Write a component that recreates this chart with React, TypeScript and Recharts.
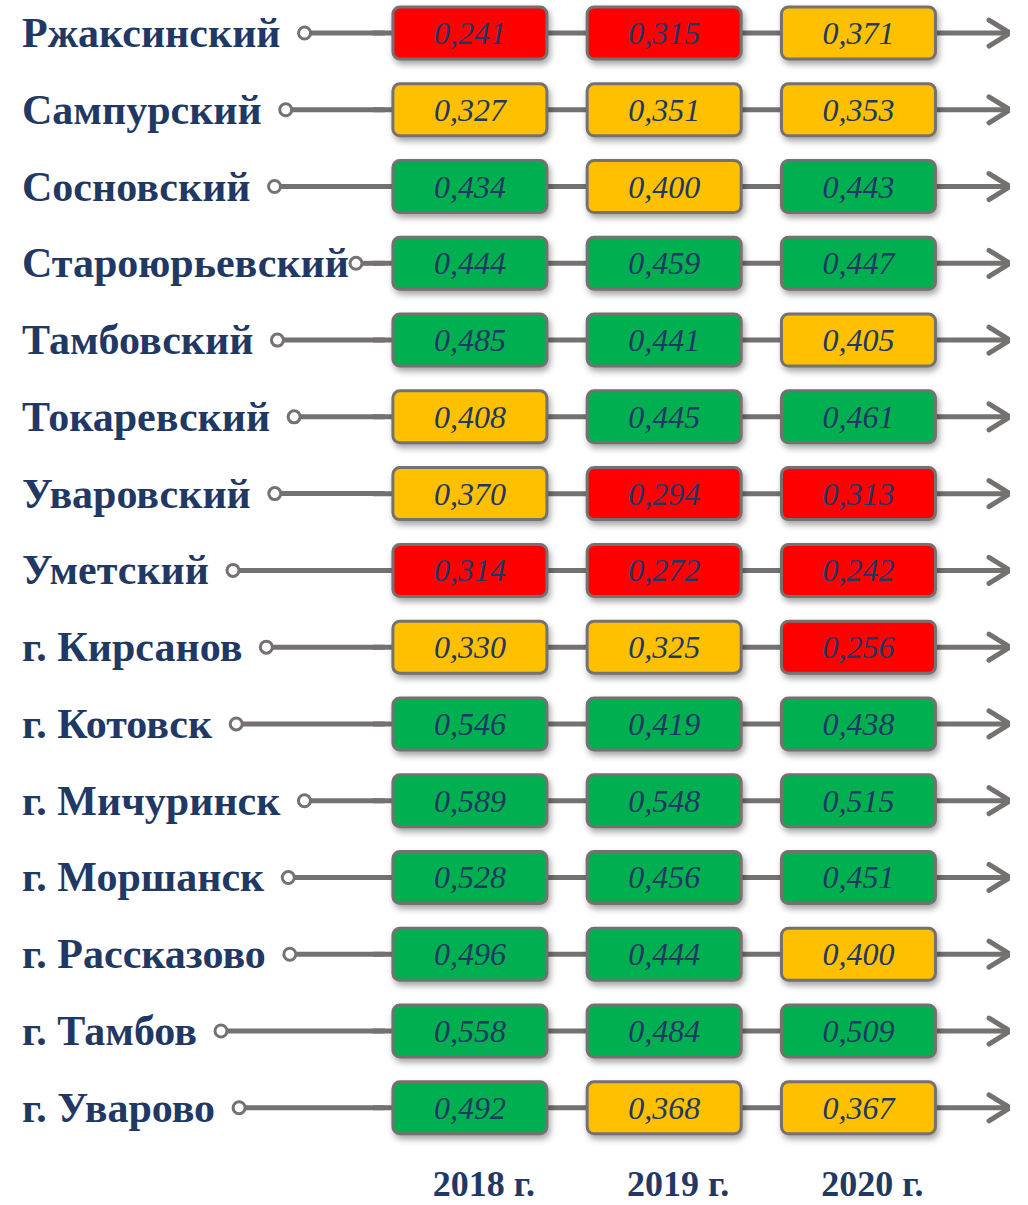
import { ScatterChart, Scatter, XAxis, YAxis } from 'recharts';

const districts = [
  'Ржаксинский',
  'Сампурский',
  'Сосновский',
  'Староюрьевский',
  'Тамбовский',
  'Токаревский',
  'Уваровский',
  'Уметский',
  'г. Кирсанов',
  'г. Котовск',
  'г. Мичуринск',
  'г. Моршанск',
  'г. Рассказово',
  'г. Тамбов',
  'г. Уварово',
];
const years = ['2018 г.', '2019 г.', '2020 г.'];
const values2018 = [0.241, 0.327, 0.434, 0.444, 0.485, 0.408, 0.37, 0.314, 0.33, 0.546, 0.589, 0.528, 0.496, 0.558, 0.492];
const values2019 = [0.315, 0.351, 0.4, 0.459, 0.441, 0.445, 0.294, 0.272, 0.325, 0.419, 0.548, 0.456, 0.444, 0.484, 0.368];
const values2020 = [0.371, 0.353, 0.443, 0.447, 0.405, 0.461, 0.313, 0.242, 0.256, 0.438, 0.515, 0.451, 0.4, 0.509, 0.367];
// below first -> red, below second -> yellow, else green
const thresholds = [0.32, 0.41];

const RED = '#FF0000';
const YELLOW = '#FFC000';
const GREEN = '#00B050';
const GRAY = '#767171';
const NAVY = '#1F3864';

const X_START = -0.5;
const X_END = 2.78;

const cells = districts.flatMap((_, i) =>
  [values2018, values2019, values2020].map((arr, j) => ({ col: j, row: i, value: arr[i] }))
);
const tracks = districts.map((_, i) => [
  { col: X_START, row: i, end: false },
  { col: X_END, row: i, end: true },
]);

const colorFor = (v: number) => (v < thresholds[0] ? RED : v < thresholds[1] ? YELLOW : GREEN);

let ctx: CanvasRenderingContext2D | null = null;
const LABEL_FONT = 'bold 42px "Liberation Serif", "Times New Roman", serif';
function measure(text: string) {
  if (!ctx) ctx = document.createElement('canvas').getContext('2d');
  if (!ctx) return text.length * 22;
  ctx.font = LABEL_FONT;
  return ctx.measureText(text).width;
}

const DistrictTick = (props: any) => {
  const { x, y, payload } = props;
  const name = districts[payload.value];
  if (name === undefined) return null;
  // small circle just after the label, never closer than ~30px to the first box
  const cxCircle = Math.min(22 + measure(name) + 24, 356);
  return (
    <g>
      <text x={22} y={y + 14} fill={NAVY} style={{ font: LABEL_FONT }}>
        {name}
      </text>
      <line x1={cxCircle + 6} y1={y} x2={x + 20} y2={y} stroke={GRAY} strokeWidth={5} />
      <circle cx={cxCircle} cy={y} r={6} fill="#fff" stroke={GRAY} strokeWidth={3} />
    </g>
  );
};

const YearTick = (props: any) => {
  const { x, y, payload } = props;
  return (
    <text
      x={x + 14}
      y={y + 38}
      textAnchor="middle"
      fill={NAVY}
      style={{ font: 'bold 36px "Liberation Serif", "Times New Roman", serif' }}
    >
      {years[payload.value]}
    </text>
  );
};

const BoxShape = (props: any) => {
  const { cx, cy, payload } = props;
  const w = 154;
  const h = 52;
  return (
    <g>
      <rect
        x={cx - w / 2}
        y={cy - h / 2}
        width={w}
        height={h}
        rx={7}
        fill={colorFor(payload.value)}
        stroke={GRAY}
        strokeWidth={3}
        style={{ filter: 'drop-shadow(2px 4px 3px rgba(0,0,0,0.35))' }}
      />
      <text
        x={cx}
        y={cy + 11}
        textAnchor="middle"
        fill={NAVY}
        style={{ font: 'italic 32px "Liberation Serif", "Times New Roman", serif' }}
      >
        {payload.value.toFixed(3).replace('.', ',')}
      </text>
    </g>
  );
};

const TrackEnd = (props: any) => {
  const { cx, cy, payload } = props;
  if (!payload.end) return <g />;
  return (
    <path
      d={`M${cx - 21},${cy - 13} L${cx},${cy} L${cx - 21},${cy + 13}`}
      fill="none"
      stroke={GRAY}
      strokeWidth={5}
      strokeLinecap="round"
      strokeLinejoin="round"
    />
  );
};

export default function App() {
  return (
    <div style={{ position: 'absolute', left: 0, top: 0, background: '#fff' }}>
      <ScatterChart width={1028} height={1205} margin={{ top: 0, right: 18, bottom: 0, left: 0 }}>
        <XAxis
          type="number"
          dataKey="col"
          domain={[X_START, X_END]}
          ticks={[0, 1, 2]}
          axisLine={false}
          tickLine={false}
          height={55}
          tick={<YearTick />}
          allowDataOverflow
        />
        <YAxis
          type="number"
          dataKey="row"
          domain={[-0.43, 14.55]}
          reversed
          ticks={districts.map((_, i) => i)}
          interval={0}
          axisLine={false}
          tickLine={false}
          width={372.75}
          tick={<DistrictTick />}
          allowDataOverflow
        />
        {tracks.map((t, i) => (
          <Scatter
            key={i}
            data={t}
            line={{ stroke: GRAY, strokeWidth: 5 }}
            shape={<TrackEnd />}
            isAnimationActive={false}
          />
        ))}
        <Scatter data={cells} shape={<BoxShape />} isAnimationActive={false} />
      </ScatterChart>
    </div>
  );
}
